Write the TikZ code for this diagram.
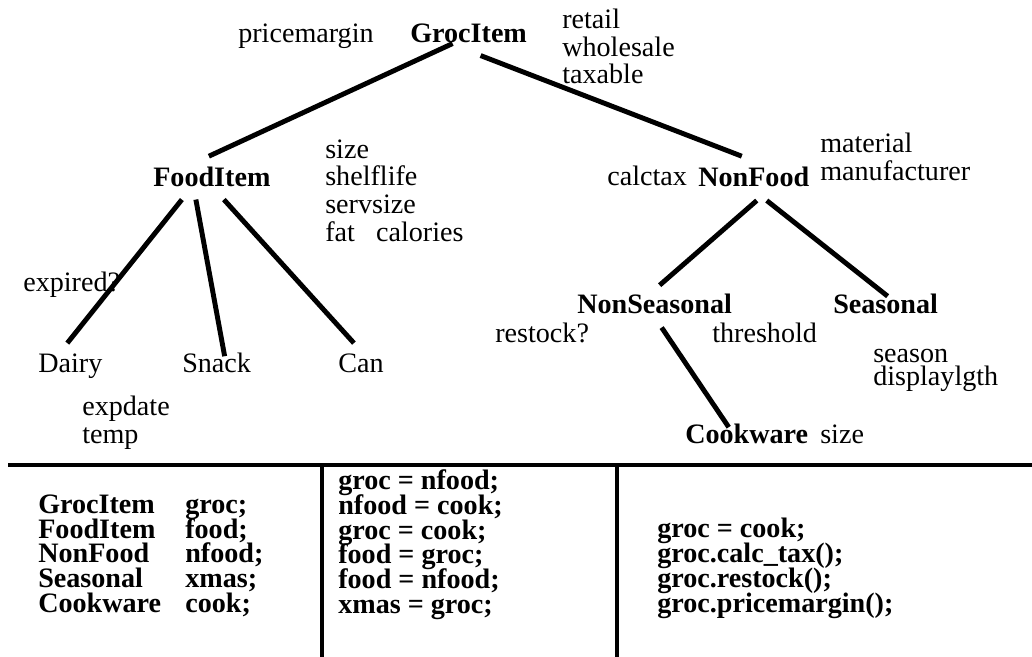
\documentclass[tikz,border=0pt]{standalone}
\usepackage{fontspec}
\setmainfont{Liberation Serif}
\usepackage{tikz}
\usetikzlibrary{calc}

\newcommand\tightlines{\lineskiplimit=-50pt\lineskip=0pt}
\tikzset{
  txt/.style={inner sep=0pt, anchor=base west, font=\fontsize{20}{19.6}\selectfont\tightlines, align=left},
  cls/.style={txt, font=\fontsize{20}{19.6}\selectfont\bfseries},
  code/.style={txt, font=\fontsize{20}{17.5}\selectfont\bfseries\tightlines},
  edge/.style={line width=3.5pt},
  rule/.style={line width=3.2pt}
}

\begin{document}
\begin{tikzpicture}[x=0.025cm, y=-0.025cm]
  \useasboundingbox (0,0) rectangle (1032,657);
  % class tree (lists sit on the baseline of their last line)
  \node[txt] (pm) at (238,43) {pricemargin};
  \node[cls] (groc) at (410,43) {GrocItem};
  \node[txt] (grocattr) at (562,84) {retail\\wholesale\\taxable};
  \node[cls] (food) at (153,186) {FoodItem};
  \node[txt] (foodattr) at (325,241) {size\\shelflife\\servsize\\fat\ \ \ calories};
  \node[txt] (calctax) at (607,185) {calctax};
  \node[cls] (nfood) at (698,186) {NonFood};
  \node[txt] (nfoodattr) at (820,180) {material\\manufacturer};
  \node[txt] (expired) at (23,291) {expired?};
  \node[txt] (dairy) at (38,372) {Dairy};
  \node[txt] (snack) at (182,372) {Snack};
  \node[txt] (can) at (338,372) {Can};
  \node[txt] (dairyattr) at (82,443) {expdate\\temp};
  \node[cls] (nonseas) at (577,313) {NonSeasonal};
  \node[cls] (seas) at (833,313) {Seasonal};
  \node[txt] (restock) at (495,342) {restock?};
  \node[txt] (threshold) at (712,342) {threshold};
  \node[txt, font=\fontsize{20}{16.3}\selectfont\tightlines] (seasattr) at (873,385) {season\\displaylgth};
  \node[cls] (cook) at (685,443) {Cookware};
  \node[txt] (cookattr) at (820,443) {size};

  \draw[edge] ($(groc.south)+(-16,0)$) -- ($(food.north)+(-3,-10)$);
  \draw[edge] ($(groc.south)+(12,12)$) -- ($(nfood.north)+(-12,-10)$);
  \draw[edge] ($(food.south)+(-30,13)$) -- ($(dairy.north)+(-3,-10)$);
  \draw[edge] ($(food.south)+(-16,13)$) -- ($(snack.north)+(8,4)$);
  \draw[edge] ($(food.south)+(12,13)$) -- ($(can.north)+(-7,-10)$);
  \draw[edge] ($(nfood.south)+(3,14)$) -- ($(nonseas.north)+(5,-8)$);
  \draw[edge] ($(nfood.south)+(13,14)$) -- ($(seas.north)+(2,3)$);
  \draw[edge] ($(nonseas.south)+(7,14)$) -- ($(cook.north)+(-18,4)$);

  % table underneath
  \draw[rule] (8,465) -- (1032,465);
  \draw[rule] (322,465) -- (322,657);
  \draw[rule] (617,465) -- (617,657);
  \node[code] (types) at (38,612) {GrocItem\\FoodItem\\NonFood\\Seasonal\\Cookware};
  \node[code] (vars) at (185,612) {groc;\\food;\\nfood;\\xmas;\\cook;};
  \node[code] (assign) at (338,613) {groc = nfood;\\nfood = cook;\\groc = cook;\\food = groc;\\food = nfood;\\xmas = groc;};
  \node[code, font=\fontsize{20}{17.7}\selectfont\bfseries\tightlines] (calls) at (657,612) {groc = cook;\\groc.calc\_tax();\\groc.restock();\\groc.pricemargin();};
\end{tikzpicture}
\end{document}
